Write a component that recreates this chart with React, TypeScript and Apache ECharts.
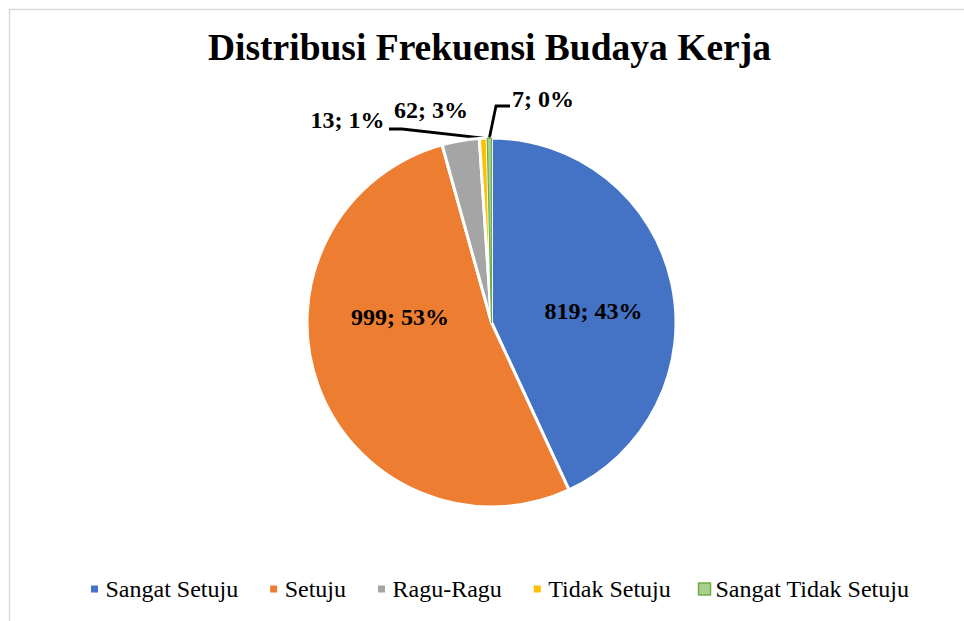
import React, { useEffect, useRef } from "react";
import * as echarts from "echarts";

const categories = ["Sangat Setuju", "Setuju", "Ragu-Ragu", "Tidak Setuju", "Sangat Tidak Setuju"];
const values = [819, 999, 62, 13, 7];
const colors = ["#4472c4", "#ed7d31", "#a5a5a5", "#ffc000", "#a9d18e"];
const titleText = "Distribusi Frekuensi Budaya Kerja";

// label centre positions (layout only)
const labelPos: [number, number][] = [
  [593.5, 311],
  [400, 317],
  [431, 110],
  [347.5, 120],
  [543, 99],
];

export default function App() {
  const ref = useRef<HTMLDivElement>(null);
  useEffect(() => {
    if (!ref.current) return;
    const chart = echarts.init(ref.current, undefined, { renderer: "svg" });
    const font = "Liberation Serif";
    const data = categories.map((name, i) => {
      const item: any = { name, value: values[i], itemStyle: { color: colors[i] } };
      if (i >= 2) {
        item.label = { position: "outside" };
        item.labelLine = { show: i >= 3 };
      }
      if (i === 4) {
        item.itemStyle = { color: colors[i], borderColor: "#70ad47", borderWidth: 1.2 };
      }
      return item;
    });
    chart.setOption({
      animation: false,
      backgroundColor: "#fff",
      title: {
        text: titleText,
        left: 208,
        top: 28,
        padding: 0,
        textStyle: { fontFamily: font, fontSize: 37.5, fontWeight: "bold", color: "#000" },
      },
      graphic: [
        {
          type: "rect",
          shape: { x: 9.5, y: 9.5, width: 1000, height: 700 },
          style: { fill: "none", stroke: "#d9d9d9", lineWidth: 1.5 },
          silent: true,
        },
      ],
      legend: {
        left: 86,
        top: 577,
        padding: 0,
        itemWidth: 12,
        itemHeight: 12,
        itemGap: 27,
        icon: "rect",
        textStyle: { fontFamily: font, fontSize: 24, color: "#000" },
        data: categories.map((name, i) => ({
          name,
          itemStyle:
            i === 4
              ? { color: colors[i], borderColor: "#70ad47", borderWidth: 1.5 }
              : { color: colors[i], borderColor: "#fff", borderWidth: 5 },
        })),
      },
      series: [
        {
          type: "pie",
          center: [491.5, 322.5],
          radius: 184.5,
          startAngle: 90,
          clockwise: true,
          percentPrecision: 0,
          avoidLabelOverlap: false,
          itemStyle: { borderColor: "#fff", borderWidth: 3 },
          label: {
            show: true,
            position: "inside",
            formatter: "{c}; {d}%",
            fontFamily: font,
            fontSize: 24,
            fontWeight: "bold",
            color: "#000",
          },
          labelLine: { show: false, lineStyle: { color: "#000", width: 2.8 } },
          labelLayout: (params: any) => {
            const i = params.dataIndex;
            const [x, y] = labelPos[i];
            const res: any = { x, y, align: "center", verticalAlign: "middle" };
            const start =
              params.labelLinePoints && params.labelLinePoints[0]
                ? params.labelLinePoints[0]
                : [491.5, 137];
            if (i === 3) {
              res.labelLinePoints = [start, [402, 129], [389, 129]];
            } else if (i === 4) {
              res.labelLinePoints = [start, [496, 106], [510, 106]];
            }
            return res;
          },
          data,
        },
      ],
    });
    return () => chart.dispose();
  }, []);
  return (
    <div
      ref={ref}
      style={{ position: "absolute", left: 0, top: 0, width: 964, height: 621 }}
    />
  );
}
